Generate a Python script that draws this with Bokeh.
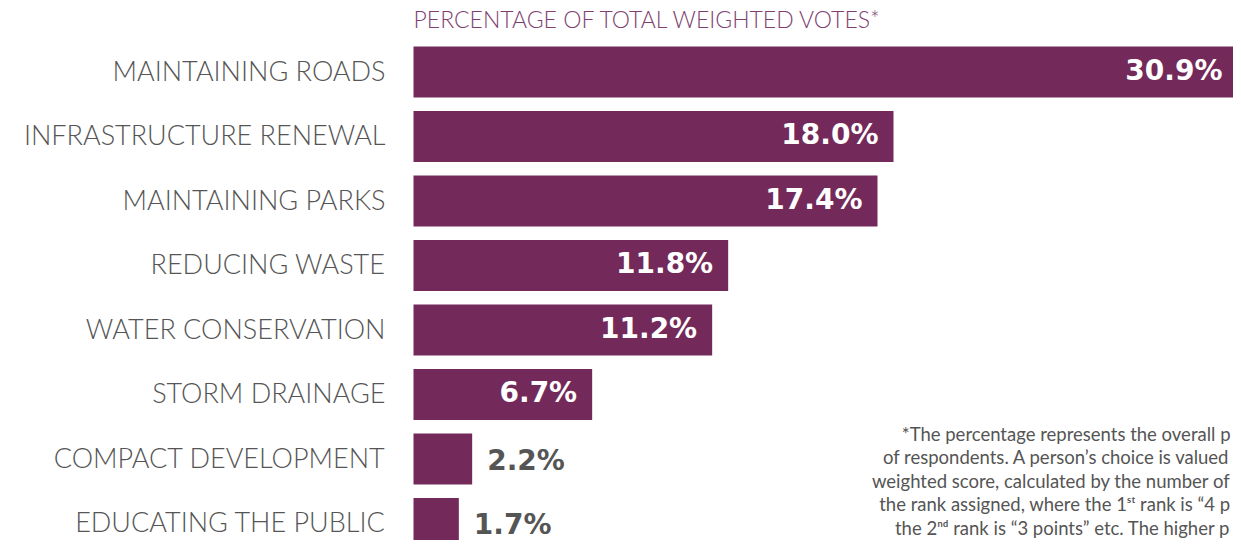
from bokeh.plotting import figure
from bokeh.models import Range1d, ColumnDataSource, Label
from bokeh.embed import file_html
from bokeh.resources import INLINE
from bokeh.core.properties import value

categories = ["MAINTAINING ROADS", "INFRASTRUCTURE RENEWAL", "MAINTAINING PARKS",
              "REDUCING WASTE", "WATER CONSERVATION", "STORM DRAINAGE",
              "COMPACT DEVELOPMENT", "EDUCATING THE PUBLIC"]
values = [30.9, 18.0, 17.4, 11.8, 11.2, 6.7, 2.2, 1.7]
value_labels = ["30.9%", "18.0%", "17.4%", "11.8%", "11.2%", "6.7%", "2.2%", "1.7%"]
title_text = "PERCENTAGE OF TOTAL WEIGHTED VOTES*"
footnote_lines = [
    "*The percentage represents the overall p",
    "of respondents. A person\u2019s choice is valued",
    "weighted score, calculated by the number of",
    "the rank assigned, where the 1\u02e2\u1d57 rank is \u201c4 p",
    "the 2\u207f\u1d48 rank is \u201c3 points\u201d etc. The higher p",
]

BAR = "#732A5A"
GRAY = "#555555"
TITLE_C = "#7E3F70"

W, H = 1233, 540
LEFT = 413
px_per = 480 / 18.0
x_start = -LEFT / px_per
x_end = (W - LEFT) / px_per
row_px = 64.5
top_px = 71.5
y_end = top_px / row_px
y_start = -(H - top_px) / row_px

ys = [-i for i in range(len(categories))]
src = ColumnDataSource(dict(y=ys, v=values, cat=categories, lab=value_labels))
inside = [i for i, v in enumerate(values) if v > 5]
outside = [i for i, v in enumerate(values) if v <= 5]
src_in = ColumnDataSource(dict(y=[ys[i] for i in inside], v=[values[i] for i in inside],
                               lab=[value_labels[i] for i in inside]))
src_out = ColumnDataSource(dict(y=[ys[i] for i in outside], v=[values[i] for i in outside],
                                lab=[value_labels[i] for i in outside]))

p = figure(width=W, height=H, output_backend="svg", toolbar_location=None,
           x_range=Range1d(x_start, x_end), y_range=Range1d(y_start, y_end),
           min_border=0, min_border_left=0, min_border_right=0,
           min_border_top=0, min_border_bottom=0)
p.axis.visible = False
p.grid.visible = False
p.outline_line_color = None
p.background_fill_color = "white"
p.border_fill_color = "white"

p.hbar(y="y", left=0, right="v", height=0.79, source=src, fill_color=BAR, line_color=None)

p.text(x=0, y="y", text="cat", source=src, x_offset=-28, y_offset=-2,
       text_align="right", text_baseline="middle",
       text_font=value("Lato Light"), text_font_size="27px", text_color=GRAY)

p.text(x="v", y="y", text="lab", source=src_in, x_offset=-15, y_offset=-2,
       text_align="right", text_baseline="middle",
       text_font=value("DejaVu Sans"), text_font_style="bold",
       text_font_size="28px", text_color="white")
p.text(x="v", y="y", text="lab", source=src_out, x_offset=15, y_offset=1,
       text_align="left", text_baseline="middle",
       text_font=value("DejaVu Sans"), text_font_style="bold",
       text_font_size="28px", text_color=GRAY)

p.add_layout(Label(x=LEFT, y=H - 18, x_units="screen", y_units="screen",
                   text=title_text, text_font="Lato Light", text_font_size="23px",
                   text_color=TITLE_C, text_baseline="alphabetic", text_align="left"))

foot_base = [433, 456.5, 480, 503.5, 527]
for t, fb in zip(footnote_lines, foot_base):
    p.add_layout(Label(x=W - 3, y=H - fb, x_units="screen", y_units="screen",
                       text=t, text_font="Lato", text_font_size="18.5px",
                       text_color=GRAY, text_baseline="alphabetic", text_align="right"))

open("out.html", "w").write(file_html(p, INLINE))
